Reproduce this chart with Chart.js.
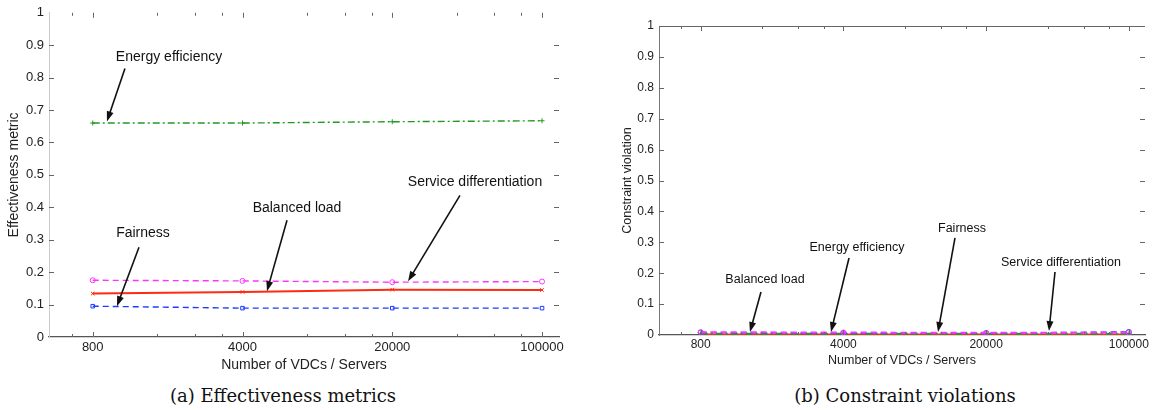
<!DOCTYPE html>
<html>
<head>
<meta charset="utf-8">
<script src="https://cdn.jsdelivr.net/npm/chart.js@4.4.1/dist/chart.umd.min.js"></script>
<style>
  body { margin: 0; background: #fff; width: 1154px; height: 410px; overflow: hidden; position: relative; }
  canvas { position: absolute; top: 0; }
  .cap { position: absolute; top: 385px; font-family: "DejaVu Serif", serif; font-size: 18px; color: #111;
         white-space: nowrap; transform: translateX(-50%); }
</style>
</head>
<body>
<canvas id="effChart" width="575" height="380" style="left:0"></canvas>
<canvas id="violChart" width="574" height="380" style="left:580px"></canvas>
<div class="cap" style="left:283px">(a) Effectiveness metrics</div>
<div class="cap" style="left:905px">(b) Constraint violations</div>
<script>
// x values (number of VDCs / servers), log axis
const sizes = [800, 4000, 20000, 100000];
const xTickValues = [800, 4000, 20000, 100000];
const xMinorTicks = [640, 1600, 2400, 3200, 8000, 12000, 16000, 40000, 60000, 80000];

// (a) effectiveness metrics
const effEnergy   = [0.660, 0.660, 0.664, 0.667];
const effService  = [0.175, 0.173, 0.169, 0.171];
const effBalanced = [0.134, 0.139, 0.146, 0.145];
const effFairness = [0.095, 0.089, 0.089, 0.089];

// (b) constraint violations
const violEnergy   = [0.004, 0.004, 0.004, 0.004];
const violService  = [0.009, 0.008, 0.007, 0.008];
const violBalanced = [0.002, 0.002, 0.002, 0.002];
const violFairness = [0.008, 0.006, 0.006, 0.010];

const pts = arr => arr.map((v, i) => ({ x: sizes[i], y: v }));

const series = (label, data, color, dash, style, width) => ({
  label, data: pts(data),
  borderColor: color, backgroundColor: 'transparent',
  borderWidth: width || 1.4, borderDash: dash,
  pointStyle: style, pointRadius: 2.5, pointBorderWidth: 1, pointBorderColor: color,
  tension: 0, fill: false
});

// draws inward MATLAB-style ticks and the arrow annotations
const decor = {
  id: 'decor',
  afterDatasetsDraw(chart, args, o) {
    const { ctx, chartArea: a, scales: { x, y } } = chart;
    ctx.save();
    const line = (x0, y0, x1, y1) => { ctx.beginPath(); ctx.moveTo(x0, y0); ctx.lineTo(x1, y1); ctx.stroke(); };
    ctx.strokeStyle = o.tickColor;
    ctx.lineWidth = 1;
    if (o.topLine) line(a.left, a.top + 0.5, a.right, a.top + 0.5);
    xTickValues.concat(xMinorTicks).forEach(v => {
      const px = Math.round(x.getPixelForValue(v)) + 0.5;
      const len = xTickValues.includes(v) ? 5 : 3;
      line(px, a.bottom, px, a.bottom - len);
      line(px, a.top, px, a.top + len);
    });
    for (let i = 1; i < 10; i++) {
      const py = Math.round(y.getPixelForValue(i / 10)) + 0.5;
      line(a.left, py, a.left + 5, py);
      line(a.right, py, a.right - 5, py);
    }
    ctx.font = o.font;
    ctx.fillStyle = '#111';
    ctx.strokeStyle = '#111';
    ctx.textAlign = 'center';
    ctx.textBaseline = 'middle';
    o.notes.forEach(n => {
      ctx.fillText(n.text, x.getPixelForValue(n.at[0]), y.getPixelForValue(n.at[1]));
      const x0 = x.getPixelForValue(n.from[0]), y0 = y.getPixelForValue(n.from[1]);
      const x1 = x.getPixelForValue(n.to[0]), y1 = y.getPixelForValue(n.to[1]);
      const ang = Math.atan2(y1 - y0, x1 - x0);
      ctx.lineWidth = 1.6;
      line(x0, y0, x1 - 6 * Math.cos(ang), y1 - 6 * Math.sin(ang));
      ctx.beginPath();
      ctx.moveTo(x1, y1);
      ctx.lineTo(x1 - 10 * Math.cos(ang) + 3.5 * Math.sin(ang), y1 - 10 * Math.sin(ang) - 3.5 * Math.cos(ang));
      ctx.lineTo(x1 - 10 * Math.cos(ang) - 3.5 * Math.sin(ang), y1 - 10 * Math.sin(ang) + 3.5 * Math.cos(ang));
      ctx.closePath();
      ctx.fill();
    });
    ctx.restore();
  }
};

function makeChart(id, datasets, yTitle, sz, box, notes, opts) {
  const fam = '"Liberation Sans", Arial, sans-serif';
  const tickFont = { family: fam, size: sz.tick };
  const textFont = { family: fam, size: sz.text };
  return new Chart(document.getElementById(id), {
    type: 'line',
    data: { datasets },
    plugins: [decor],
    options: {
      responsive: false,
      animation: false,
      layout: { padding: { left: 0, top: box.top, right: box.right, bottom: box.bottom } },
      plugins: {
        legend: { display: false },
        tooltip: { enabled: false },
        decor: { notes, font: sz.text + 'px ' + fam, tickColor: '#666', topLine: opts.topLine }
      },
      scales: {
        x: {
          type: 'logarithmic', min: 500, max: 120000,
          afterBuildTicks: s => { s.ticks = xTickValues.map(v => ({ value: v })); },
          afterFit: s => { s.height = box.xHeight; },
          ticks: { callback: v => String(v), autoSkip: false, maxRotation: 0, font: tickFont, color: '#222', padding: box.xPad },
          grid: { display: false, drawTicks: false },
          border: { color: '#555', width: 1.2 },
          title: { display: true, text: 'Number of VDCs / Servers', font: textFont, color: '#222',
                   padding: { top: 0, bottom: 0 } }
        },
        y: {
          min: 0, max: 1,
          afterFit: s => { s.width = box.yWidth; },
          ticks: { stepSize: 0.1, callback: v => String(Math.round(v * 10) / 10), font: tickFont, color: '#222', padding: 5 },
          grid: { display: false, drawTicks: false },
          border: { color: opts.yAxisColor, width: 1 },
          title: { display: true, text: yTitle, font: textFont, color: '#222', padding: { top: box.yTitlePad, bottom: 0 } }
        }
      }
    }
  });
}

const green = '#229922', magenta = '#ff33ff', red = '#ff2a12', blue = '#1a3cff';

makeChart('effChart', [
  series('Energy efficiency', effEnergy, green, [7, 3, 2, 3], 'cross'),
  series('Service differentiation', effService, magenta, [6, 4], 'circle'),
  series('Balanced load', effBalanced, red, [], 'crossRot', 2),
  series('Fairness', effFairness, blue, [6, 4], 'rect')
], 'Effectiveness metric', { tick: 13, text: 14 },
  { top: 12, right: 16, bottom: 6, xHeight: 37, yWidth: 49, xPad: 3, yTitlePad: 6 },
  [
    { text: 'Energy efficiency', at: [1816, 0.862], from: [1131, 0.828], to: [932, 0.665] },
    { text: 'Fairness', at: [1373, 0.32], from: [1315, 0.277], to: [1038, 0.095] },
    { text: 'Balanced load', at: [7185, 0.397], from: [6453, 0.36], to: [5204, 0.1415] },
    { text: 'Service differentiation', at: [48650, 0.477], from: [41400, 0.437], to: [23700, 0.172] }
  ],
  { topLine: false, yAxisColor: '#ccc' });

makeChart('violChart', [
  series('Service differentiation', violService, magenta, [6, 4], 'circle', 2),
  series('Fairness', violFairness, blue, [6, 4], 'circle'),
  series('Energy efficiency', violEnergy, green, [7, 3, 2, 3], 'cross', 2),
  series('Balanced load', violBalanced, red, [], 'crossRot', 2)
], 'Constraint violation', { tick: 12, text: 12.5 },
  { top: 26, right: 9, bottom: 12, xHeight: 33, yWidth: 79, xPad: 2, yTitlePad: 40 },
  [
    { text: 'Balanced load', at: [1652, 0.178], from: [1579, 0.139], to: [1395, 0.0097] },
    { text: 'Energy efficiency', at: [4663, 0.2816], from: [4261, 0.249], to: [3478, 0.0097] },
    { text: 'Fairness', at: [15235, 0.346], from: [14080, 0.314], to: [11625, 0.0097] },
    { text: 'Service differentiation', at: [46525, 0.236], from: [43485, 0.204], to: [40640, 0.013] }
  ],
  { topLine: true, yAxisColor: '#777' });
</script>
</body>
</html>
